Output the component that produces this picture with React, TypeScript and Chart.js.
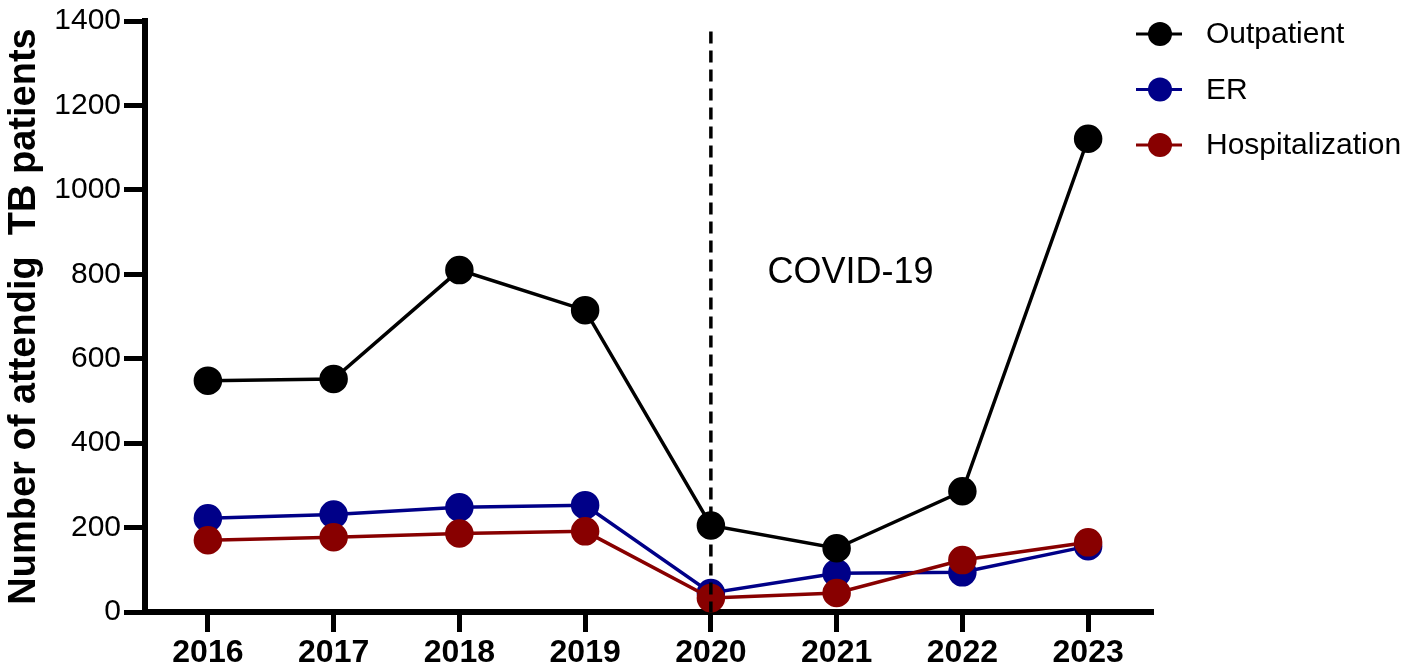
import React, { useEffect, useRef } from "react";
import { Chart, registerables } from "chart.js";

Chart.register(...registerables);

const years = ["2016", "2017", "2018", "2019", "2020", "2021", "2022", "2023"];
const outpatient = [548, 552, 810, 715, 205, 151, 286, 1121];
const er = [222, 231, 248, 253, 45, 92, 94, 156];
const hospitalization = [170, 177, 186, 191, 33, 45, 123, 165];
const yTicks = [0, 200, 400, 600, 800, 1000, 1200, 1400];

const seriesNames = ["Outpatient", "ER", "Hospitalization"];
const seriesColors = ["#000000", "#000088", "#880000"];

const covidIndex = 4;
const covidLabel = "COVID-19";
const yTitle = "Number of attendig  TB patients";

const FONT = "'Liberation Sans', Arial, Helvetica, sans-serif";

const overlayPlugin = {
  id: "overlay",
  afterDatasetsDraw(chart: any) {
    const { ctx, chartArea, scales } = chart;
    const xs = scales.x;
    const ys = scales.y;
    const x = xs.getPixelForValue(covidIndex);
    ctx.save();
    ctx.strokeStyle = "#000";
    ctx.lineWidth = 3.5;
    ctx.setLineDash([12, 7]);
    ctx.beginPath();
    ctx.moveTo(x, ys.getPixelForValue(1375));
    ctx.lineTo(x, ys.getPixelForValue(0));
    ctx.stroke();
    ctx.setLineDash([]);
    ctx.fillStyle = "#000";
    ctx.font = `36px ${FONT}`;
    ctx.textAlign = "center";
    ctx.textBaseline = "middle";
    ctx.fillText(covidLabel, xs.getPixelForValue(5.11), ys.getPixelForValue(803));
    const lx0 = chartArea.right - 15;
    const lx1 = chartArea.right + 31;
    const cx = (lx0 + lx1) / 2 + 1;
    ctx.font = `30px ${FONT}`;
    ctx.textAlign = "left";
    seriesNames.forEach((name, i) => {
      const y = chartArea.top + 13 + i * 55.5;
      ctx.strokeStyle = seriesColors[i];
      ctx.lineWidth = 3;
      ctx.beginPath();
      ctx.moveTo(lx0, y);
      ctx.lineTo(lx1, y);
      ctx.stroke();
      ctx.fillStyle = seriesColors[i];
      ctx.beginPath();
      ctx.arc(cx, y, 12, 0, Math.PI * 2);
      ctx.fill();
      ctx.fillStyle = "#000";
      ctx.fillText(name, chartArea.right + 55, y + 1);
    });
    ctx.restore();
  },
};

export default function App() {
  const ref = useRef<HTMLCanvasElement | null>(null);

  useEffect(() => {
    document.body.style.margin = "0";
    const canvas = ref.current;
    if (!canvas) return;
    const mk = (label: string, data: number[], color: string, order: number) => ({
      label,
      data,
      borderColor: color,
      backgroundColor: color,
      pointBackgroundColor: color,
      pointBorderColor: color,
      borderWidth: 3.5,
      pointRadius: 12.5,
      pointHoverRadius: 12.5,
      tension: 0,
      clip: false,
      order,
    });
    const chart = new Chart(canvas, {
      type: "line",
      data: {
        labels: years,
        datasets: [
          mk(seriesNames[0], outpatient, seriesColors[0], 0),
          mk(seriesNames[1], er, seriesColors[1], 2),
          mk(seriesNames[2], hospitalization, seriesColors[2], 1),
        ],
      },
      options: {
        animation: false,
        responsive: true,
        maintainAspectRatio: false,
        layout: { padding: { top: 19, right: 267, left: 0, bottom: 0 } },
        plugins: {
          legend: { display: false },
          tooltip: { enabled: false },
        },
        scales: {
          x: {
            type: "category",
            offset: true,
            grid: {
              display: true,
              drawOnChartArea: false,
              drawTicks: true,
              tickLength: 20,
              lineWidth: 5,
              color: "#000",
              offset: false,
            },
            border: { display: true, color: "#000", width: 6 },
            ticks: {
              color: "#000",
              font: { family: FONT, size: 32, weight: "bold" },
              padding: 2,
              maxRotation: 0,
            },
            afterFit: (s: any) => {
              s.height = 58;
            },
          },
          y: {
            min: 0,
            max: 1400,
            afterBuildTicks: (s: any) => {
              s.ticks = yTicks.map((v) => ({ value: v }));
            },
            grid: {
              display: true,
              drawOnChartArea: false,
              drawTicks: true,
              tickLength: 21,
              lineWidth: 5,
              color: "#000",
            },
            border: { display: true, color: "#000", width: 6 },
            ticks: {
              color: "#000",
              font: { family: FONT, size: 30 },
              padding: 3,
              callback: (v: any) => String(v),
            },
            title: {
              display: true,
              text: yTitle,
              color: "#000",
              font: { family: FONT, size: 38, weight: "bold" },
              padding: { top: 2, bottom: 0 },
            },
            afterFit: (s: any) => {
              s.width = 145;
            },
          },
        },
      },
      plugins: [overlayPlugin],
    });
    return () => chart.destroy();
  }, []);

  return (
    <div style={{ position: "relative", width: "1418px", height: "670px", background: "#fff" }}>
      <canvas ref={ref} />
    </div>
  );
}
